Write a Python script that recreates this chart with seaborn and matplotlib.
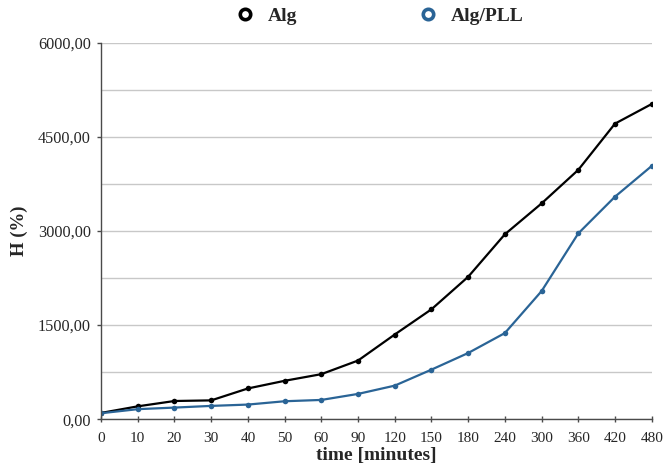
import pandas as pd
import matplotlib.pyplot as plt
import seaborn as sns
from matplotlib.lines import Line2D
from matplotlib.ticker import MultipleLocator, FuncFormatter

# time points (categorical axis) and swelling values
time_labels = ['0', '10', '20', '30', '40', '50', '60', '90', '120', '150',
               '180', '240', '300', '360', '420', '480']
alg = [100, 205, 290, 300, 490, 612, 718, 935, 1350, 1752,
       2270, 2948, 3440, 3975, 4712, 5025]
alg_pll = [95, 160, 185, 212, 233, 286, 307, 403, 535, 790,
           1055, 1373, 2042, 2962, 3547, 4037]
series_names = ['Alg', 'Alg/PLL']
colors = ['#000000', '#2a6496']

df = pd.DataFrame({
    'time': time_labels * 2,
    'H': alg + alg_pll,
    'sample': [series_names[0]] * len(alg) + [series_names[1]] * len(alg_pll),
})

sns.set_style('white')
plt.rcParams['font.family'] = ['Liberation Serif', 'DejaVu Serif']

fig = plt.figure(figsize=(6.65, 4.71), dpi=100)
ax = fig.add_axes([0.152, 0.110, 0.828, 0.799])

sns.lineplot(data=df, x='time', y='H', hue='sample', palette=colors,
             marker='o', markersize=4, markeredgewidth=0, linewidth=1.6,
             sort=False, legend=False, ax=ax)

ax.set_xlim(0, len(time_labels) - 1)
ax.set_ylim(0, 6000)
ax.yaxis.set_major_locator(MultipleLocator(1500))
ax.yaxis.set_minor_locator(MultipleLocator(750))
ax.yaxis.set_major_formatter(FuncFormatter(lambda v, p: f'{v:.2f}'.replace('.', ',')))
ax.grid(axis='y', which='both', color='#c8c8c8', linewidth=1)
ax.set_axisbelow(True)

for s in ['top', 'right']:
    ax.spines[s].set_visible(False)
for s in ['left', 'bottom']:
    ax.spines[s].set_color('#4a4a4a')
    ax.spines[s].set_linewidth(1)

ax.tick_params(axis='y', which='major', direction='out', length=3, width=1,
               color='#4a4a4a', labelsize=11.7, pad=4.3, left=True)
ax.tick_params(axis='y', which='minor', length=0)
ax.tick_params(axis='x', direction='inout', length=4, width=1,
               color='#4a4a4a', labelsize=11, pad=7, bottom=True)

ax.set_xlabel('time [minutes]', fontsize=14, fontweight='bold', labelpad=2)
ax.set_ylabel('H (%)', fontsize=13.5, fontweight='bold', labelpad=7)

handles = [Line2D([], [], linestyle='none', marker='o', markersize=7.5,
                  markerfacecolor='white', markeredgecolor=c, markeredgewidth=2.6)
           for c in colors]
fig.legend(handles, series_names, loc='center left', ncol=2,
           bbox_to_anchor=(235 / 665, 1 - 16 / 471), frameon=False,
           borderpad=0, borderaxespad=0, handlelength=1.0, handletextpad=0.7,
           columnspacing=6.2, prop={'weight': 'bold', 'size': 14})

fig.savefig('out.png', dpi=100)
